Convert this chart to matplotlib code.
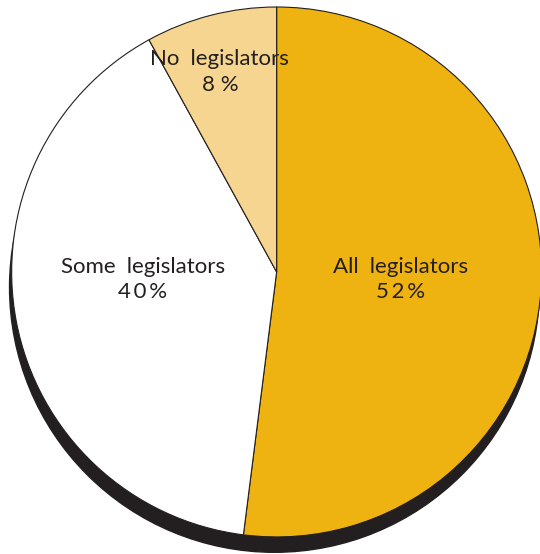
import matplotlib
matplotlib.use("Agg")
import matplotlib.pyplot as plt
from matplotlib.patches import Circle

# 数据
labels = ['All\u2002legislators', 'Some\u2002legislators', 'No\u2002legislators']
shares = [52, 40, 8]
pct_text = ['5\u20092\u2009%', '4\u20090\u2009%', '8 %']
colors = ['#EEB211', '#FFFFFF', '#F6D590']

plt.rcParams['font.family'] = ['Lato', 'DejaVu Sans']

fig = plt.figure(figsize=(5.40, 5.54), dpi=100)
ax = fig.add_axes([0, 0, 1, 1])

# 阴影
ax.add_patch(Circle((-0.008, -0.058), 1.0, color='#231F20', zorder=0))

# 饼图
wedges, _ = ax.pie(shares, colors=colors, startangle=90, counterclock=False,
                   radius=1.0, center=(0, 0),
                   wedgeprops={'edgecolor': '#231F20', 'linewidth': 0.8})
for w in wedges:
    w.set_zorder(1)

# 标签 (两行, 基线位置)
pos = [(0.469, -0.004, -0.098), (-0.505, -0.004, -0.098), (-0.214, 0.781, 0.683)]
for (x, y1, y2), lab, pt in zip(pos, labels, pct_text):
    ax.text(x, y1, lab, ha='center', va='baseline', fontsize=16,
            color='#231F20', zorder=3)
    ax.text(x, y2, pt, ha='center', va='baseline', fontsize=16,
            color='#231F20', zorder=3)

ax.set_xlim(-1.044, 0.994)
ax.set_ylim(-1.064, 1.026)
ax.set_aspect('equal')
ax.axis('off')

fig.savefig('out.png', dpi=100)
